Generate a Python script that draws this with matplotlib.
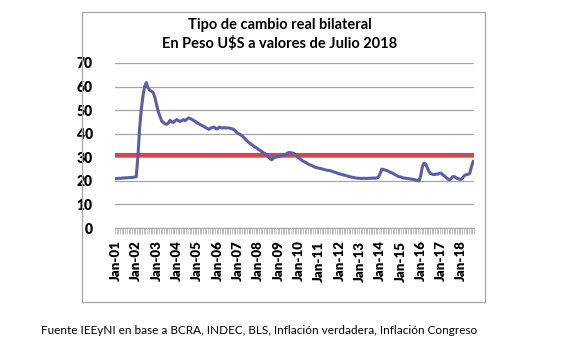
import matplotlib
matplotlib.use("Agg")
import matplotlib.pyplot as plt
from matplotlib.patches import Rectangle
import numpy as np

plt.rcParams['font.family'] = ['Lato', 'DejaVu Sans']

# monthly real bilateral exchange rate, Jan-2001 .. Aug-2018
tcr_2001 = [21.0, 21.0, 21.1, 21.1, 21.2, 21.2, 21.3, 21.3, 21.4, 21.4, 21.5, 21.6]
tcr_2002 = [21.7, 30.0, 42.0, 50.0, 56.0, 60.0, 61.7, 59.5, 58.5, 58.0, 57.5, 55.5]
tcr_2003 = [52.5, 49.5, 47.5, 45.5, 44.8, 44.2, 44.0, 44.5, 45.7, 45.0, 44.8, 45.5]
tcr_2004 = [46.0, 45.5, 45.2, 45.6, 46.0, 45.5, 46.2, 46.7, 46.4, 46.0, 45.6, 45.2]
tcr_2005 = [44.5, 44.2, 43.8, 43.4, 43.1, 42.6, 42.2, 41.8, 42.4, 42.6, 42.8, 42.2]
tcr_2006 = [42.0, 42.8, 42.6, 42.4, 42.6, 42.4, 42.5, 42.4, 42.2, 42.0, 41.6, 40.8]
tcr_2007 = [40.2, 39.8, 39.4, 38.8, 38.0, 37.3, 36.6, 36.0, 35.5, 35.0, 34.4, 34.0]
tcr_2008 = [33.4, 33.0, 32.5, 32.0, 31.6, 31.0, 30.4, 29.5, 28.9, 29.6, 30.0, 30.1]
tcr_2009 = [30.3, 30.5, 30.7, 30.8, 31.2, 31.6, 32.0, 32.0, 31.8, 31.7, 31.2, 30.5]
tcr_2010 = [29.8, 29.2, 28.6, 28.2, 27.8, 27.4, 27.0, 26.7, 26.4, 26.0, 25.7, 25.5]
tcr_2011 = [25.4, 25.2, 25.0, 24.8, 24.6, 24.5, 24.4, 24.2, 24.0, 23.7, 23.5, 23.2]
tcr_2012 = [23.0, 22.8, 22.6, 22.4, 22.2, 22.0, 21.8, 21.6, 21.5, 21.3, 21.2, 21.1]
tcr_2013 = [21.1, 21.0, 21.1, 21.1, 21.0, 21.1, 21.1, 21.1, 21.2, 21.1, 21.3, 21.5]
tcr_2014 = [23.0, 25.0, 24.8, 24.6, 24.4, 24.0, 23.7, 23.4, 23.0, 22.6, 22.2, 21.8]
tcr_2015 = [21.7, 21.4, 21.2, 21.1, 21.0, 20.9, 20.8, 20.7, 20.6, 20.4, 20.2, 20.0]
tcr_2016 = [22.0, 26.0, 27.5, 27.0, 25.5, 23.8, 23.0, 22.8, 22.6, 22.9, 22.8, 23.2]
tcr_2017 = [23.3, 22.6, 22.1, 21.5, 20.8, 20.4, 21.0, 21.8, 21.8, 21.2, 20.9, 20.7]
tcr_2018 = [20.7, 21.5, 22.4, 22.6, 22.8, 23.2, 26.0, 28.2]

promedio = 31.0  # red reference line

tcr = (tcr_2001 + tcr_2002 + tcr_2003 + tcr_2004 + tcr_2005 + tcr_2006
       + tcr_2007 + tcr_2008 + tcr_2009 + tcr_2010 + tcr_2011 + tcr_2012
       + tcr_2013 + tcr_2014 + tcr_2015 + tcr_2016 + tcr_2017 + tcr_2018)
year_labels = ["Jan-%02d" % y for y in range(1, 19)]

n = len(tcr)
x = np.arange(n)

fig = plt.figure(figsize=(5.69, 3.58), dpi=100)
fig.patches.append(Rectangle((82 / 569, 1 - 302 / 358), 403 / 569, 290 / 358,
                             transform=fig.transFigure, fill=False,
                             edgecolor="#a6a6a6", linewidth=0.9))

ax = fig.add_axes([115 / 569, 1 - 228 / 358, 359 / 569, 165 / 358])
ax.plot(x, tcr, color="#5b5ea6", linewidth=2.2, solid_joinstyle="round", zorder=3)
ax.plot(x, [promedio] * n, color="#c0504d", linewidth=3.0, zorder=2)

ax.set_xlim(-0.5, n - 0.5)
ax.set_ylim(0, 70)
ax.set_yticks(range(0, 71, 10))
ax.yaxis.grid(True, color="#a6a6a6", linewidth=0.9)
ax.set_axisbelow(True)
for s in ["left", "right", "top"]:
    ax.spines[s].set_visible(False)
ax.spines["bottom"].set_color("#a6a6a6")
ax.tick_params(axis="y", length=0, pad=16, labelsize=10)
for lab in ax.get_yticklabels():
    lab.set_fontweight("heavy")

ax.set_xticks(np.arange(n + 1) - 0.5, minor=True)
ax.set_xticks(np.arange(0, n, 12))
ax.set_xticklabels(year_labels, rotation=90, fontweight="heavy", fontsize=9.5)
ax.tick_params(axis="x", which="major", length=0, pad=9)
ax.tick_params(axis="x", which="minor", length=4, width=0.5, color="#a6a6a6")

fig.text(280 / 569, 1 - 25 / 358, "Tipo de cambio real bilateral",
         ha="center", va="center", fontsize=10.5, fontweight="bold")
fig.text(280 / 569, 1 - 44 / 358, "En Peso U$S a valores de Julio 2018",
         ha="center", va="center", fontsize=10.5, fontweight="bold")
fig.text(259 / 569, 1 - 330 / 358,
         "Fuente IEEyNI en base a BCRA, INDEC, BLS, Inflación verdadera, Inflación Congreso",
         ha="center", va="center", fontsize=8.5)

fig.savefig("out.png", dpi=100)
